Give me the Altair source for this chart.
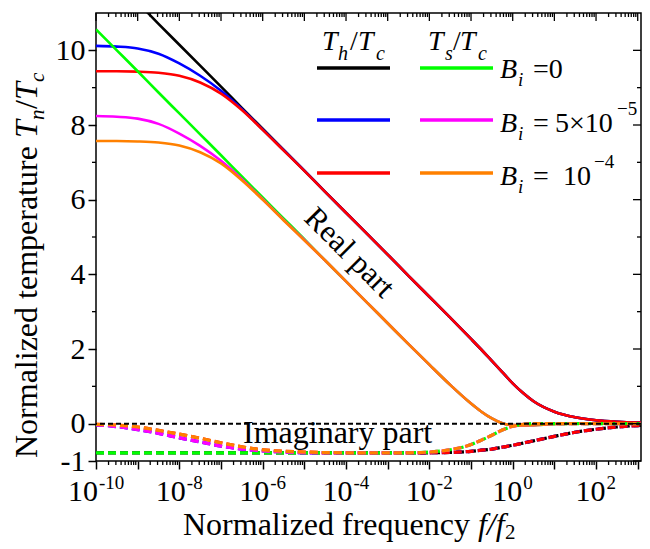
import altair as alt
import pandas as pd

FONT = "Liberation Serif"
W, H = 545, 448

# log10 of normalized frequency f/f2
LOGF = [-10, -9.5, -9, -8.5, -8, -7.5, -7, -6.5, -6, -5.5, -5, -4.5, -4, -3.5, -3, -2.5,
        -2, -1.5, -1, -0.75, -0.5, -0.25, 0, 0.25, 0.5, 1, 1.5, 2, 2.5, 3, 3.3]

# Real parts, Th/Tc
TH_RE_B0 = [12.40, 11.84, 11.28, 10.71, 10.15, 9.59, 9.03, 8.46, 7.90, 7.34, 6.78, 6.21, 5.65, 5.09, 4.53, 3.96,
            3.40, 2.84, 2.27, 1.98, 1.68, 1.38, 1.08, 0.82, 0.60, 0.32, 0.17, 0.09, 0.05, 0.03, 0.025]
TH_RE_B5 = [10.12, 10.10, 10.05, 9.91, 9.65, 9.32, 8.92, 8.43, 7.88, 7.33, 6.78, 6.21, 5.65, 5.09, 4.53, 3.96,
            3.40, 2.84, 2.27, 1.98, 1.68, 1.38, 1.08, 0.82, 0.60, 0.32, 0.17, 0.09, 0.05, 0.03, 0.025]
TH_RE_B10 = [9.44, 9.44, 9.43, 9.40, 9.32, 9.14, 8.84, 8.40, 7.87, 7.32, 6.77, 6.21, 5.65, 5.09, 4.53, 3.96,
             3.40, 2.84, 2.27, 1.98, 1.68, 1.38, 1.08, 0.82, 0.60, 0.32, 0.17, 0.09, 0.05, 0.03, 0.025]
# Real parts, Ts/Tc
TS_RE_B0 = [10.56, 10.00, 9.44, 8.87, 8.31, 7.75, 7.19, 6.62, 6.06, 5.50, 4.94, 4.37, 3.81, 3.25, 2.69, 2.13,
            1.58, 1.04, 0.54, 0.32, 0.14, 0.01, -0.04, -0.05, -0.04, -0.01, 0.0, 0.0, 0.0, 0.0, 0.0]
TS_RE_B5 = [8.24, 8.22, 8.17, 8.03, 7.77, 7.44, 7.04, 6.55, 6.01, 5.46, 4.92, 4.37, 3.81, 3.25, 2.69, 2.13,
            1.58, 1.04, 0.54, 0.32, 0.14, 0.01, -0.04, -0.05, -0.04, -0.01, 0.0, 0.0, 0.0, 0.0, 0.0]
TS_RE_B10 = [7.57, 7.57, 7.56, 7.53, 7.45, 7.27, 6.97, 6.52, 6.00, 5.45, 4.91, 4.37, 3.81, 3.25, 2.69, 2.13,
             1.58, 1.04, 0.54, 0.32, 0.14, 0.01, -0.04, -0.05, -0.04, -0.01, 0.0, 0.0, 0.0, 0.0, 0.0]
# Imaginary parts, Th/Tc
TH_IM_B0 = [-0.785, -0.785, -0.785, -0.785, -0.785, -0.785, -0.785, -0.785, -0.785, -0.785, -0.785, -0.785,
            -0.785, -0.785, -0.785, -0.785, -0.78, -0.77, -0.74, -0.71, -0.68, -0.63, -0.58, -0.52, -0.46,
            -0.34, -0.23, -0.15, -0.09, -0.05, -0.04]
TH_IM_B5 = [-0.03, -0.08, -0.16, -0.26, -0.38, -0.49, -0.60, -0.68, -0.73, -0.76, -0.78, -0.785, -0.785,
            -0.785, -0.785, -0.785, -0.78, -0.77, -0.74, -0.71, -0.68, -0.63, -0.58, -0.52, -0.46,
            -0.34, -0.23, -0.15, -0.09, -0.05, -0.04]
TH_IM_B10 = [-0.02, -0.04, -0.09, -0.18, -0.28, -0.39, -0.51, -0.62, -0.70, -0.74, -0.76, -0.775, -0.78,
             -0.785, -0.785, -0.785, -0.78, -0.77, -0.74, -0.71, -0.68, -0.63, -0.58, -0.52, -0.46,
             -0.34, -0.23, -0.15, -0.09, -0.05, -0.04]
# Imaginary parts, Ts/Tc
TS_IM_B0 = [-0.785, -0.785, -0.785, -0.785, -0.785, -0.785, -0.785, -0.785, -0.785, -0.785, -0.785, -0.785,
            -0.785, -0.785, -0.785, -0.78, -0.76, -0.70, -0.56, -0.44, -0.31, -0.17, -0.07, -0.02, 0.0,
            0.0, 0.0, 0.0, 0.0, 0.0, 0.0]
TS_IM_B5 = [-0.03, -0.08, -0.16, -0.26, -0.38, -0.49, -0.60, -0.68, -0.73, -0.76, -0.78, -0.785, -0.785,
            -0.785, -0.785, -0.78, -0.76, -0.70, -0.56, -0.44, -0.31, -0.17, -0.07, -0.02, 0.0,
            0.0, 0.0, 0.0, 0.0, 0.0, 0.0]
TS_IM_B10 = [-0.02, -0.04, -0.09, -0.18, -0.28, -0.39, -0.51, -0.62, -0.70, -0.74, -0.76, -0.775, -0.78,
             -0.785, -0.785, -0.78, -0.76, -0.70, -0.56, -0.44, -0.31, -0.17, -0.07, -0.02, 0.0,
             0.0, 0.0, 0.0, 0.0, 0.0, 0.0]

DECADES = list(range(-10, 4))
MINOR_MULT = [2, 3, 4, 5, 6, 7, 8, 9]
Y_MAJOR = [-1, 0, 2, 4, 6, 8, 10]
Y_MINOR = [1, 3, 5, 7, 9]
# x tick labels "10" with superscript exponent, grouped by exponent length
EXP_LONG = ["-10"]
EXP_MID = ["-8", "-6", "-4", "-2"]
EXP_SHORT = ["0", "2"]

FMAX = 10 ** 3.079
xs = alt.Scale(type="log", domain=[1e-10, FMAX], nice=False)
ys = alt.Scale(domain=[-1, 11], nice=False, zero=False)

dummy = pd.DataFrame({"f": [1e-5], "v": [5.0]})

axes_layer = alt.Chart(dummy).mark_point(opacity=0).encode(
    x=alt.X("f:Q", scale=xs, title=None, axis=alt.Axis(
        values=[10.0 ** k for k in DECADES], labels=False, grid=False,
        domain=False, tickSize=8, tickWidth=1.5, tickColor="black")),
    y=alt.Y("v:Q", scale=ys, title=None, axis=alt.Axis(
        values=Y_MAJOR, labelExpr="datum.value == -1 ? '-1' : datum.label",
        grid=False, domain=False, tickSize=8, tickWidth=1.5, tickColor="black",
        labelFont=FONT, labelFontSize=30, labelColor="black", labelPadding=3)),
)


def series(vals, color, dash=None, width=2.6):
    df = pd.DataFrame({"f": [10.0 ** v for v in LOGF], "v": vals})
    mk = dict(color=color, strokeWidth=width, interpolate="monotone", clip=True)
    if dash:
        mk["strokeDash"] = dash
    return alt.Chart(df).mark_line(**mk).encode(
        x=alt.X("f:Q", scale=xs, title=None), y=alt.Y("v:Q", scale=ys, title=None))


DASH = [8, 4]
BLACK, BLUE, RED = "#000000", "#0000ff", "#ff0000"
GREEN, MAGENTA, ORANGE = "#00ff00", "#ff00ff", "#ff8000"

lines = [
    series(TH_RE_B0, BLACK), series(TH_RE_B5, BLUE), series(TH_RE_B10, RED),
    series(TH_IM_B0, BLACK, DASH, 3.2), series(TH_IM_B5, BLUE, DASH, 3.2), series(TH_IM_B10, RED, DASH, 3.2),
    series(TS_RE_B0, GREEN), series(TS_RE_B5, MAGENTA), series(TS_RE_B10, ORANGE),
    series(TS_IM_B0, GREEN, DASH, 3.2), series(TS_IM_B5, MAGENTA, DASH, 3.2), series(TS_IM_B10, ORANGE, DASH, 3.2),
]

zero_line = alt.Chart(pd.DataFrame({"v": [0.0]})).mark_rule(
    color="black", strokeDash=[5, 3], strokeWidth=2).encode(
    y=alt.Y("v:Q", scale=ys, title=None))

# tick marks (mirror and minor)
minor_f = [m * 10.0 ** k for k in DECADES for m in MINOR_MULT if m * 10.0 ** k <= FMAX]
major_f = [10.0 ** k for k in DECADES]
df_minor = pd.DataFrame({"f": minor_f})
df_major = pd.DataFrame({"f": major_f})
df_ymaj = pd.DataFrame({"v": Y_MAJOR})
df_ymin = pd.DataFrame({"v": Y_MINOR})


def xtick(df, y1, y2):
    return alt.Chart(df).mark_rule(color="black", strokeWidth=1.3).encode(
        x=alt.X("f:Q", scale=xs, title=None), y=alt.value(y1), y2=alt.value(y2))


def ytick(df, x1, x2):
    return alt.Chart(df).mark_rule(color="black", strokeWidth=1.3).encode(
        y=alt.Y("v:Q", scale=ys, title=None), x=alt.value(x1), x2=alt.value(x2))


ticks = [
    xtick(df_minor, H, H + 4), xtick(df_minor, 0, 4), xtick(df_major, 0, 8),
    ytick(df_ymin, -4, 0), ytick(df_ymin, W - 4, W), ytick(df_ymaj, W - 8, W),
]


def xlabels(exps, dx_main, dx_sup):
    df = pd.DataFrame({"f": [10.0 ** int(e) for e in exps], "e": exps})
    main = alt.Chart(df).mark_text(
        text="10", font=FONT, fontSize=30, align="right", baseline="alphabetic",
        dx=dx_main, color="black").encode(
        x=alt.X("f:Q", scale=xs, title=None), y=alt.value(H + 40))
    sup = alt.Chart(df).mark_text(
        font=FONT, fontSize=19, align="left", baseline="alphabetic",
        dx=dx_sup, color="black").encode(
        x=alt.X("f:Q", scale=xs, title=None), y=alt.value(H + 28), text="e:N")
    return [main, sup]


xlab = xlabels(EXP_LONG, 2, 3) + xlabels(EXP_MID, 6.5, 7.5) + xlabels(EXP_SHORT, 9.5, 10.5)

one = pd.DataFrame({"a": [0]})


def txt(s, x, y, size=30, style="normal", angle=0, align="left", baseline="alphabetic", dx=0, dy=0):
    return alt.Chart(one).mark_text(
        text=s, font=FONT, fontSize=size, fontStyle=style, angle=angle, align=align,
        baseline=baseline, dx=dx, dy=dy, color="black").encode(x=alt.value(x), y=alt.value(y))


def seg(x1, x2, y, color):
    return alt.Chart(one).mark_rule(color=color, strokeWidth=3.3).encode(
        x=alt.value(x1), x2=alt.value(x2), y=alt.value(y))


YT_X, YT_Y = -59, 445
texts = [
    # y-axis title
    txt("Normalized temperature ", YT_X, YT_Y, 32, angle=270),
    txt("T", YT_X, YT_Y, 32, "italic", angle=270, dx=320),
    txt("n", YT_X, YT_Y, 21, "italic", angle=270, dx=338, dy=7),
    txt("/", YT_X, YT_Y, 32, angle=270, dx=349),
    txt("T", YT_X, YT_Y, 32, "italic", angle=270, dx=358),
    txt("c", YT_X, YT_Y, 21, "italic", angle=270, dx=376, dy=7),
    # x-axis title
    txt("Normalized frequency ", 87, 522, 32),
    txt("f/f", 382, 522, 32, "italic"),
    txt("2", 409, 526, 21),
    # annotations
    txt("Imaginary part", 147, 430, 32),
    txt("Real part", 253, 240, 31, angle=45, align="center", baseline="middle"),
    # legend headers
    txt("T", 226, 37, 28, "italic"), txt("h", 242, 47, 20, "italic"), txt("/", 254, 37, 28),
    txt("T", 262, 37, 28, "italic"), txt("c", 280, 47, 20, "italic"),
    txt("T", 332, 37, 28, "italic"), txt("s", 349, 47, 20, "italic"), txt("/", 357, 37, 28),
    txt("T", 364, 37, 28, "italic"), txt("c", 382, 47, 20, "italic"),
    # legend labels
    txt("B", 404, 65, 28, "italic"), txt("i", 422, 73, 19, "italic"), txt("=0", 437, 65, 28),
    txt("B", 404, 119, 28, "italic"), txt("i", 422, 127, 19, "italic"), txt("=", 437, 119, 28),
    txt("5×10", 459, 119, 28), txt("−5", 521, 102, 19),
    txt("B", 404, 172, 28, "italic"), txt("i", 422, 180, 19, "italic"), txt("=", 437, 172, 28),
    txt("10", 467, 172, 28), txt("−4", 498, 155, 19),
]

legend = [
    seg(221, 294, 55, BLACK), seg(324, 397, 55, GREEN),
    seg(221, 294, 107, BLUE), seg(324, 397, 107, MAGENTA),
    seg(221, 294, 160, RED), seg(324, 397, 160, ORANGE),
]

chart = alt.layer(axes_layer, *lines, zero_line, *ticks, *xlab, *legend, *texts).properties(
    width=W, height=H,
    autosize=alt.AutoSizeParams(type="none"),
    padding={"left": 88, "top": 5, "right": 1, "bottom": 84},
).configure_view(stroke="black", strokeWidth=1.5).configure_axis(
    labelFont=FONT, labelFontSize=30, labelColor="black")

chart.save("out.html", embed_options={"renderer": "svg", "actions": False})
